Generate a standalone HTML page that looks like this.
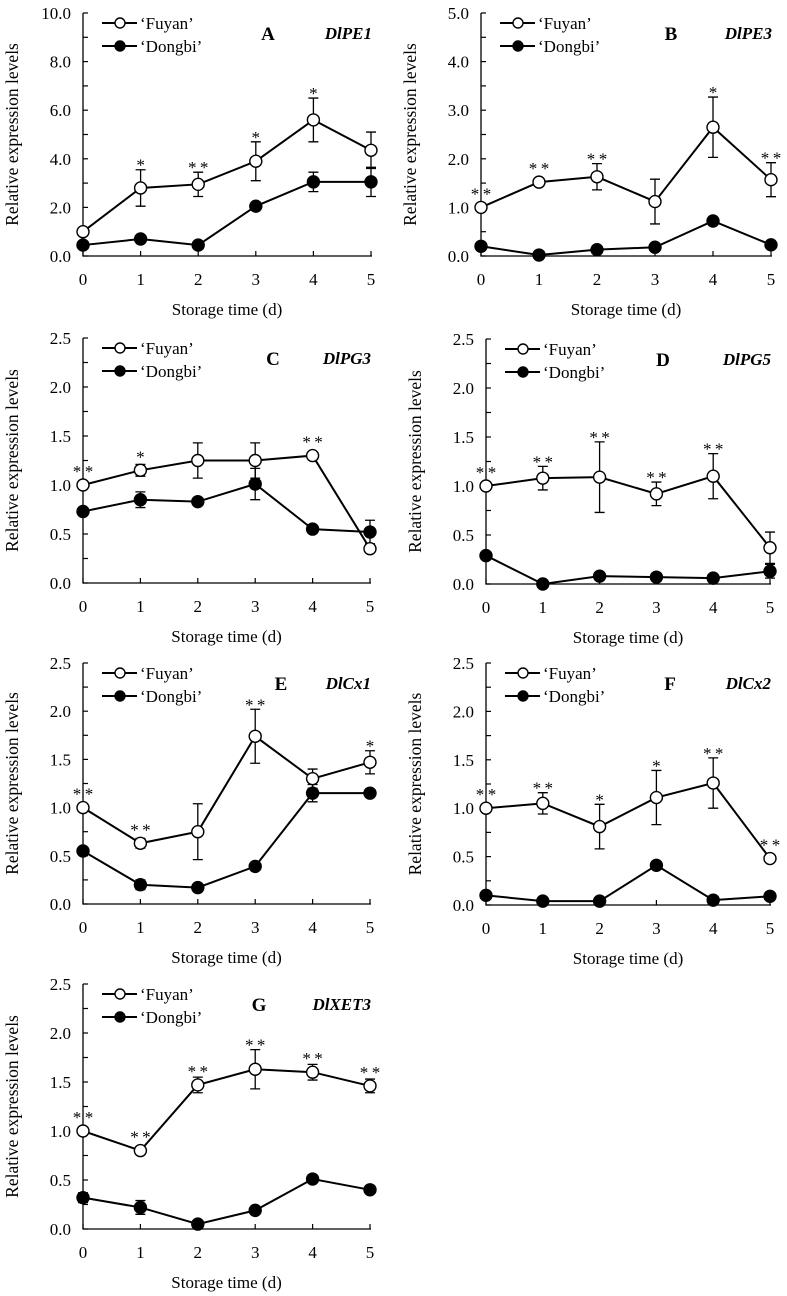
<!DOCTYPE html>
<html><head><meta charset="utf-8"><style>
html,body{margin:0;padding:0;background:#fff;}
svg{display:block;font-family:"Liberation Serif",serif;}
</style></head><body>
<svg id="fig" width="787" height="1296" viewBox="0 0 787 1296" xmlns="http://www.w3.org/2000/svg"></svg>
<script>
const days = [0,1,2,3,4,5];
// Panel A DlPE1
const aFuyan = [1.0,2.8,2.95,3.9,5.6,4.35];
const aFuyanErr = [0,0.75,0.5,0.8,0.9,0.75];
const aDongbi = [0.45,0.7,0.45,2.05,3.05,3.05];
const aDongbiErr = [0,0,0,0,0.4,0.6];
const aStars = ["","*","**","*","*",""];
const aTicks = [0,2,4,6,8,10];
// Panel B DlPE3
const bFuyan = [1.0,1.52,1.63,1.12,2.65,1.57];
const bFuyanErr = [0,0,0.27,0.46,0.62,0.35];
const bDongbi = [0.2,0.02,0.13,0.18,0.72,0.23];
const bDongbiErr = [0,0,0,0,0.05,0];
const bStars = ["**","**","**","","*","**"];
const bTicks = [0,1,2,3,4,5];
// Panel C DlPG3
const cFuyan = [1.0,1.15,1.25,1.25,1.3,0.35];
const cFuyanErr = [0,0.06,0.18,0.18,0,0];
const cDongbi = [0.73,0.85,0.83,1.01,0.55,0.52];
const cDongbiErr = [0,0.08,0,0.16,0,0.12];
const cStars = ["**","*","","","**",""];
const smallTicks = [0,0.5,1.0,1.5,2.0,2.5];
// Panel D DlPG5
const dFuyan = [1.0,1.08,1.09,0.92,1.1,0.37];
const dFuyanErr = [0,0.12,0.36,0.12,0.23,0.16];
const dDongbi = [0.29,0.0,0.08,0.07,0.06,0.13];
const dDongbiErr = [0,0,0,0,0,0.07];
const dStars = ["**","**","**","**","**",""];
// Panel E DlCx1
const eFuyan = [1.0,0.63,0.75,1.74,1.3,1.47];
const eFuyanErr = [0,0.05,0.29,0.28,0.1,0.12];
const eDongbi = [0.55,0.2,0.17,0.39,1.15,1.15];
const eDongbiErr = [0,0.05,0,0,0.09,0];
const eStars = ["**","**","","**","","*"];
// Panel F DlCx2
const fFuyan = [1.0,1.05,0.81,1.11,1.26,0.48];
const fFuyanErr = [0,0.11,0.23,0.28,0.26,0.04];
const fDongbi = [0.1,0.04,0.04,0.41,0.05,0.09];
const fDongbiErr = [0,0,0,0.04,0,0];
const fStars = ["**","**","*","*","**","**"];
// Panel G DlXET3
const gFuyan = [1.0,0.8,1.47,1.63,1.6,1.46];
const gFuyanErr = [0,0.04,0.08,0.2,0.08,0.07];
const gDongbi = [0.32,0.22,0.05,0.19,0.51,0.4];
const gDongbiErr = [0.05,0.07,0,0,0,0];
const gStars = ["**","**","**","**","**","**"];

const svg = document.getElementById('fig');
const NS = 'http://www.w3.org/2000/svg';
function mk(tag, attrs, parent){const e=document.createElementNS(NS,tag);for(const k in attrs)e.setAttribute(k,attrs[k]);(parent||svg).appendChild(e);return e;}

function panel(o){
  const g = mk('g',{});
  
  
  const x = d => o.x0 + (o.x5-o.x0)*d/5;
  const y = v => o.yb - (o.yb-o.yt)*v/o.max;
  const step = o.ticks[1]-o.ticks[0];
  const ax = mk('path',{d:`M${o.x0},${o.yt}V${o.yb}H${o.x5+1}`,stroke:'#000','stroke-width':1.3,fill:'none'},g);
  
  
  for(let v=0; v<=o.max+1e-9; v+=step/2){
    mk('line',{x1:o.x0,x2:o.x0+5,y1:y(v),y2:y(v),stroke:'#000','stroke-width':1.2},g);
  }
  o.ticks.forEach(t=>{
    const tl = mk('text',{x:o.x0-12,y:y(t)+6,'text-anchor':'end','font-size':17},g);
    tl.textContent = t.toFixed(1);
    
    
  });
  days.forEach(d=>{
    mk('line',{x1:x(d),x2:x(d),y1:o.yb,y2:o.yb-5,stroke:'#000','stroke-width':1.2},g);
    const t = mk('text',{x:x(d),y:o.yb+29,'text-anchor':'middle','font-size':17},g);
    t.textContent = d;
    
    
  });
  const xt = mk('text',{x:(o.x0+o.x5)/2,y:o.yb+59,'text-anchor':'middle','font-size':17},g);
  xt.textContent = 'Storage time (d)';
  
  
  const yc=(o.yt+o.yb)/2, yx=o.x0-65;
  const yt = mk('text',{x:yx,y:yc,'text-anchor':'middle','font-size':17.5,transform:`rotate(-90 ${yx} ${yc})`},g);
  yt.textContent = 'Relative expression levels';
  
  
  const series = [[o.dong,o.dongErr,'#000','dongbi'],[o.fuy,o.fuyErr,'#fff','fuyan']];
  series.forEach(([vals,errs,fill,nm])=>{
    vals.forEach((v,i)=>{ if(errs[i]>0){
      const eb = mk('path',{d:`M${x(i)},${y(v-errs[i])}V${y(v+errs[i])}M${x(i)-5},${y(v+errs[i])}h10M${x(i)-5},${y(v-errs[i])}h10`,stroke:'#000','stroke-width':1.3,fill:'none'},g);
      
      
    }});
    const ln = mk('polyline',{points:vals.map((v,i)=>x(i)+','+y(v)).join(' '),stroke:'#000','stroke-width':2,fill:'none'},g);
    
    
    vals.forEach((v,i)=>{
      const c = mk('circle',{cx:x(i),cy:y(v),r:6,fill:fill,stroke:'#000','stroke-width':1.4},g);
      
      
    });
  });
  o.stars.forEach((s,i)=>{ if(s){
    const topPx = Math.min(y(o.fuy[i]+o.fuyErr[i]), y(o.fuy[i])-9);
    const st = mk('text',{x:x(i),y:topPx+1,'text-anchor':'middle','font-size':17},g);
    st.textContent = s.split('').join('\u2009');
    
    
  }});
  [['\u2018Fuyan\u2019','#fff',10],['\u2018Dongbi\u2019','#000',33]].forEach(([lab,fill,dy])=>{
    const ly=o.yt+dy, lx=o.x0+19;
    mk('line',{x1:lx,x2:lx+35,y1:ly,y2:ly,stroke:'#000','stroke-width':2},g);
    mk('circle',{cx:lx+18,cy:ly,r:5,fill:fill,stroke:'#000','stroke-width':1.4},g);
    const lt = mk('text',{x:lx+38,y:ly+6,'font-size':17},g);
    lt.textContent = lab;
    
    
  });
  const L = mk('text',{x:o.x0+o.letterX,y:o.yt+27,'text-anchor':'middle','font-size':19,'font-weight':'bold'},g);
  L.textContent = o.letter;
  
  
  const G = mk('text',{x:o.x5+1,y:o.yt+26,'text-anchor':'end','font-size':17,'font-weight':'bold','font-style':'italic'},g);
  G.textContent = o.gene;
  
  
}
panel({letter:'A',gene:'DlPE1',letterX:185,x0:83,x5:371,yt:13,yb:256,max:10,ticks:aTicks,fuy:aFuyan,fuyErr:aFuyanErr,dong:aDongbi,dongErr:aDongbiErr,stars:aStars});
panel({letter:'B',gene:'DlPE3',letterX:190,x0:481,x5:771,yt:13,yb:256,max:5,ticks:bTicks,fuy:bFuyan,fuyErr:bFuyanErr,dong:bDongbi,dongErr:bDongbiErr,stars:bStars});
panel({letter:'C',gene:'DlPG3',letterX:190,x0:83,x5:370,yt:338,yb:583,max:2.5,ticks:smallTicks,fuy:cFuyan,fuyErr:cFuyanErr,dong:cDongbi,dongErr:cDongbiErr,stars:cStars});
panel({letter:'D',gene:'DlPG5',letterX:177,x0:486,x5:770,yt:339,yb:584,max:2.5,ticks:smallTicks,fuy:dFuyan,fuyErr:dFuyanErr,dong:dDongbi,dongErr:dDongbiErr,stars:dStars});
panel({letter:'E',gene:'DlCx1',letterX:198,x0:83,x5:370,yt:663,yb:904,max:2.5,ticks:smallTicks,fuy:eFuyan,fuyErr:eFuyanErr,dong:eDongbi,dongErr:eDongbiErr,stars:eStars});
panel({letter:'F',gene:'DlCx2',letterX:184,x0:486,x5:770,yt:663,yb:905,max:2.5,ticks:smallTicks,fuy:fFuyan,fuyErr:fFuyanErr,dong:fDongbi,dongErr:fDongbiErr,stars:fStars});
panel({letter:'G',gene:'DlXET3',letterX:176,x0:83,x5:370,yt:984,yb:1229,max:2.5,ticks:smallTicks,fuy:gFuyan,fuyErr:gFuyanErr,dong:gDongbi,dongErr:gDongbiErr,stars:gStars});
</script>
</body></html>
